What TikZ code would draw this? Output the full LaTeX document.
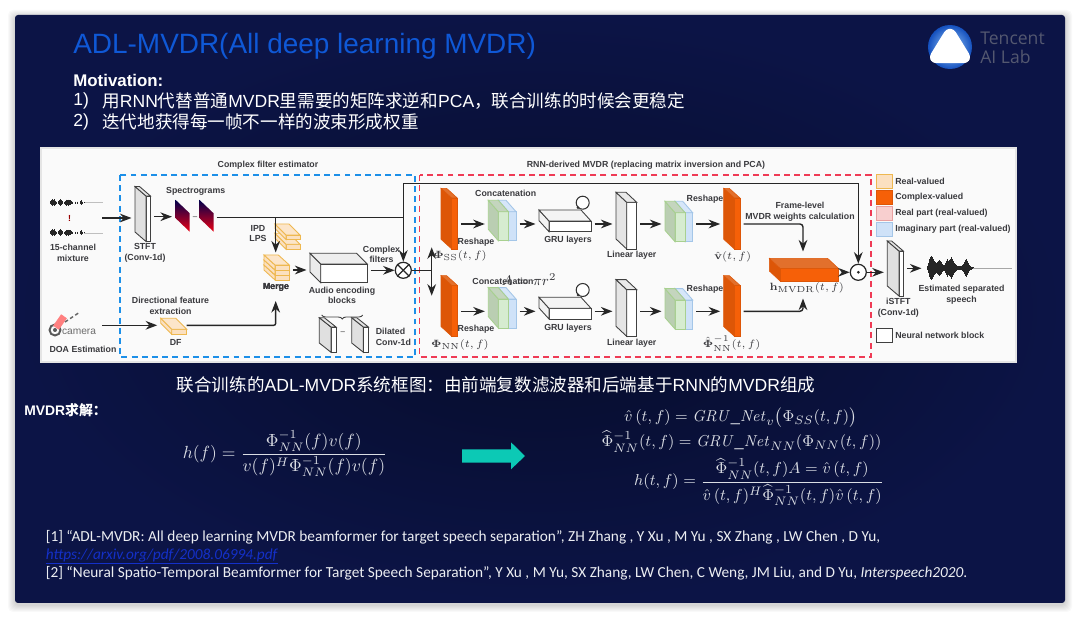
\documentclass[tikz,border=0pt]{standalone}
\usepackage{amsmath,amssymb}
\usepackage[no-math]{fontspec}
\setmainfont{Liberation Sans}
\newfontfamily\cjk{Noto Sans CJK SC}
\newfontfamily\reffont{Carlito}
\newfontfamily\logofont{Open Sans}
\usetikzlibrary{arrows.meta,calc,decorations.pathreplacing}
\definecolor{slideblue}{RGB}{12,20,70}
\definecolor{slidedark}{RGB}{6,12,42}
\definecolor{titleblue}{RGB}{15,88,214}
\definecolor{softwhite}{RGB}{236,238,242}
\definecolor{mathgray}{RGB}{218,221,228}
\definecolor{tealarrow}{RGB}{12,201,181}
\definecolor{linkblue}{RGB}{20,48,200}
\definecolor{dashblue}{RGB}{28,143,232}
\definecolor{dashred}{RGB}{239,59,85}
\definecolor{cplxorange}{RGB}{246,96,8}
\definecolor{realfill}{RGB}{251,224,192}
\definecolor{realedge}{RGB}{238,184,80}
\definecolor{greenfill}{RGB}{214,236,208}
\definecolor{greenside}{RGB}{186,206,178}
\definecolor{greenedge}{RGB}{168,208,144}
\definecolor{imagfill}{RGB}{207,226,248}
\definecolor{imagedge}{RGB}{164,198,232}
\definecolor{partfill}{RGB}{248,207,207}
\definecolor{partedge}{RGB}{232,160,160}
\definecolor{textgray}{RGB}{58,58,62}
\definecolor{logoblue}{RGB}{20,80,190}
\definecolor{logoglow}{RGB}{160,208,255}
\definecolor{logotext}{RGB}{84,88,112}

% front face as a node, then the two slanted faces
\newcommand{\cuboid}[9]{
    \colorlet{cubeside}{#2}
    \node[front, #1, anchor=north west, minimum width=#6*0.02cm, minimum height=#7*0.02cm] (#3) at (#4,#5) {};
    \draw[#1, fill=cubeside] (#3.north west) -- ++(-#8,-#9) -- ++(0,#7) -- (#3.south west) -- cycle;
    \draw[#1, fill=cubeside!85!white] (#3.north west) -- ++(-#8,-#9) -- ++(#6,0) -- (#3.north east) -- cycle;
    \coordinate (#3w) at ($(#3.west)+(-#8,0)$);
    \coordinate (#3e) at (#3.east);
}
\newcommand{\concat}[3]{
    \cuboid{imagbox}{imagfill}{#1i}{#2+10}{#3}{7.7}{29}{10}{11.4}
    \cuboid{greenbox}{greenside}{#1}{#2}{#3}{10}{29}{10}{11.4}
    \coordinate (#1e) at (#1i.east);
}

\begin{document}
\begin{tikzpicture}[x=0.02cm, y=-0.02cm,
    front/.style={draw, inner sep=0pt, outer sep=0pt},
    greybox/.style={draw=black!75, fill=white, line width=0.5pt},
    realbox/.style={draw=realedge, fill=realfill, line width=0.5pt},
    cplxbox/.style={draw=cplxorange!90!black, fill=cplxorange, line width=0.3pt},
    greenbox/.style={draw=greenedge, fill=greenfill, line width=0.5pt},
    imagbox/.style={draw=imagedge, fill=imagfill, line width=0.5pt},
    partbox/.style={draw=partedge, fill=partfill, line width=0.5pt},
    lab/.style={font=\fontsize{5}{6}\selectfont\bfseries, text=textgray, align=center, inner sep=0pt},
    leg/.style={lab, anchor=west},
    mlab/.style={font=\fontsize{6.2}{7}\selectfont, text=textgray, inner sep=0pt},
    conn/.style={->, draw=black!85, line width=0.8pt, shorten >=0.07cm, shorten <=0.07cm},
    flow/.style={draw=black!85, line width=0.8pt},
    opnode/.style={circle, draw=black!85, fill=white, line width=0.7pt, minimum size=0.32cm, inner sep=0pt},
    slidetxt/.style={font=\fontsize{10}{12}\selectfont, text=white, anchor=west, inner sep=0pt},
    reftxt/.style={font=\fontsize{8.72}{10}\selectfont\reffont, text=softwhite, anchor=west, inner sep=0pt},
    eqn/.style={text=mathgray, inner sep=0pt},
    logotxt/.style={font=\fontsize{10}{12}\selectfont\logofont, text=logotext, anchor=west, inner sep=0pt},
    >=Stealth
]
\useasboundingbox (0,0) rectangle (1080,618);
\fill[white] (0,0) rectangle (1080,618);

% slide and its shadow
\foreach \d in {1,...,7}
    \fill[black, opacity=0.025, rounded corners=0.1cm] (15-\d,15-\d+2) rectangle (1065+\d,603+\d+2);
\shade[inner color=slidedark, outer color=slideblue, rounded corners=0.06cm] (15,15) rectangle (1065,603);

% header
\node[font=\fontsize{15.9}{20}\selectfont, text=titleblue, anchor=west, inner sep=0pt] (title) at (73,46.5) {ADL-MVDR(All deep learning MVDR)};
\node[slidetxt, font=\fontsize{9.6}{12}\selectfont\bfseries] (motiv) at (73,80) {Motivation:};
\node[slidetxt] (numa) at (73,101) {1)};
\node[slidetxt] (numb) at (73,122) {2)};
\node[slidetxt] (linea) at (102,101) {{\cjk 用}RNN{\cjk 代替普通}MVDR{\cjk 里需要的矩阵求逆和}PCA{\cjk ，联合训练的时候会更稳定}};
\node[slidetxt] (lineb) at (102,122) {\cjk 迭代地获得每一帧不一样的波束形成权重};

% logo
\node[circle, minimum size=0.88cm, inner sep=0pt, inner color=logoglow, outer color=logoblue] (logo) at (950,47) {};
\fill[white, draw=white, line width=2.5pt, line join=round, rounded corners=0.16cm] (950,27) -- (971,61) -- (929,61) -- cycle;
\node[logotxt] (tencent) at (980,38) {Tencent};
\node[logotxt] (ailab) at (980,57) {AI Lab};

% white panel
\fill[white!80!gray] (40,147) rectangle (1017,363);
\fill[white!98!black] (42,149) rectangle (1015,361);

\draw[dashblue, line width=0.9pt, dash pattern=on 3.4pt off 2.4pt] (120,175) rectangle (415,357);
\draw[dashred, line width=0.9pt, dash pattern=on 3.4pt off 2.4pt] (419.5,175) rectangle (871,357);
\node[lab] (titlecfe) at (268,165) {Complex filter estimator};
\node[lab] (titlernn) at (646,165.5) {RNN-derived MVDR (replacing matrix inversion and PCA)};

% input waveforms
\foreach \y in {202.7,233} {
    \draw[gray!50, line width=0.3pt] (84,\y) -- (103,\y);
    \foreach \x/\h in {50/1.5,51/2.5,52/3.5,53/2.5,54/3.5,55/2,56/1,58/1.5,59/2.5,60/3.5,61/2.5,62/1.5,64/1,65/2,66/3,67/2.5,68/3,69/2.5,70/2.5,71/1.5,72/1,75/1,77/1,80/1.5,81/2.5,82/1,84/.5}
        \draw[black!85, line width=0.55pt] (\x,\y-\h) -- (\x,\y+\h);
}
\node[lab, text=red!60!black] (dotsmix) at (69.5,218) {!};
\node[lab] (labmix) at (73,253) {15-channel\\mixture};
\coordinate (mixout) at (98.5,218);

% camera
\draw[gray!70!black, line width=1.1pt] (55,330) circle (5.5);
\fill[gray!70!black] (55,330) circle (2);
\fill[red!50!white, rotate around={-35:(60,322)}] (56.5,315) rectangle (63.5,329);
\draw[gray!80!black, line width=0.8pt, dash pattern=on 2pt off 1.5pt] (65,322) -- (80,312);
\node[font=\fontsize{5.8}{8}\selectfont, text=gray!85!black, inner sep=0pt] (labcam) at (79,332) {camera};
\node[lab] (labdoa) at (83,349) {DOA Estimation};
\coordinate (camout) at (98.5,325.3);

% STFT and spectrograms
\cuboid{greybox}{black!12}{stft}{146}{196}{4.5}{45.5}{11}{9.5}
\node[lab] (labstft) at (145,253) {STFT\\(Conv-1d)};
\foreach \x in {175.7,199.6}
    \shade[top color=black!70!blue, bottom color=red!70!purple] (\x,200) -- (\x+14,213.3) -- (\x+14,231.7) -- (\x,218.3) -- cycle;
\coordinate (specin) at (175.5,216.7);
\coordinate (specout) at (216.5,217.3);
\node[lab, text=gray] (dashspec) at (195,218) {--};
\node[lab] (labspec) at (195.7,191.7) {Spectrograms};

% merge side
\cuboid{realbox}{realfill}{ipdb}{286}{244.3}{14}{5}{11}{11}
\cuboid{realbox}{realfill}{ipda}{286}{235}{14}{4.5}{11}{11}
\node[lab] (labipd) at (258,233.5) {IPD\\LPS};
\foreach \n/\y in {c/275,b/270,a/265}
    \cuboid{realbox}{realfill}{merge\n}{275}{\y}{14.3}{5}{11}{10}
\node[lab] (labmerge) at (276,287) {Merge};
\cuboid{realbox}{realfill}{df}{171.7}{329.3}{15}{5}{11}{11}
\node[lab] (labdf) at (175.7,342.7) {DF};
\node[lab] (labdirect) at (170.5,306) {Directional feature\\extraction};
\coordinate (mergetop) at (275.7,256);
\coordinate (mergelow) at (275.7,297.5);
\coordinate (rowm) at (0,270);

% audio encoding
\cuboid{greybox}{black!8}{audio}{320.7}{264}{46.6}{18.7}{10.7}{10.7}
\node[lab] (labaudio) at (342,295.5) {Audio encoding\\blocks};
\coordinate (bracel) at (321.7,315);
\coordinate (bracer) at (362.7,315);
\draw[black!75, line width=0.5pt, decorate, decoration={brace, amplitude=0.08cm, mirror}] (bracel) -- (bracer);
\cuboid{greybox}{black!12}{dila}{331}{327}{5}{25.3}{11.7}{9.3}
\cuboid{greybox}{black!12}{dilb}{363.4}{327}{5}{25.3}{11.7}{9.3}
\node[lab, text=gray] (dashdil) at (342.7,333) {--};
\node[lab, align=left, anchor=west] (labdil) at (375.5,337) {Dilated\\Conv-1d};
\node[lab] (labcplx) at (381.5,254.5) {Complex\\filters};

\node[opnode] (otimes) at (403.3,270.3) {};
\draw[black!85, line width=0.7pt] (otimes.north west) -- (otimes.south east);
\draw[black!85, line width=0.7pt] (otimes.north east) -- (otimes.south west);

% the two RNN rows
\foreach \r/\o in {a/0,b/87.3} {
    \coordinate (row\r) at (0,224+\o);
    \cuboid{cplxbox}{cplxorange!90!black}{orgin\r}{451.7}{198+\o}{5.6}{51}{10.7}{9.7}
    \concat{cona\r}{498.3}{211.7+\o}
    \cuboid{greybox}{black!5}{gru\r}{549}{221+\o}{42}{10.7}{10}{11}
    \node[circle, draw=black!80, fill=white, line width=0.6pt, minimum size=0.26cm, inner sep=0pt] (loop\r) at (582.7,202.7+\o) {};
    \fill[black!80] (578,207.7+\o) circle (1.5);
    \cuboid{greybox}{black!10}{linear\r}{626.7}{202.3+\o}{10}{46.7}{10.7}{10}
    \concat{conb\r}{675}{212.7+\o}
    \cuboid{cplxbox}{cplxorange!90!black}{orgout\r}{734.4}{198+\o}{5.6}{51}{10.7}{9.7}
    \node[lab] (labgru\r) at (568,240.7+\o) {GRU layers};
    \node[lab] (lablin\r) at (631.7,255.7+\o) {Linear layer};
    \node[lab] (labresa\r) at (476,242+\o) {Reshape};
    % connections along the row
    \foreach \p/\q in {orgin/cona, cona/gru, gru/linear, linear/conb, conb/orgout}
        \draw[conn] (\p\r e |- row\r) -- (\q\r w |- row\r);
}
\node[lab] (labcona) at (505.7,193.3) {Concatenation};
\node[lab] (labconb) at (503,281) {Concatenation};
\node[font=\fontsize{8.5}{10}\selectfont, text=textgray, inner sep=0pt] (labarea) at (529,280) {$A=\pi r^2$};
\node[lab] (labresb) at (705,199.3) {Reshape};
\node[lab] (labresc) at (705,289.3) {Reshape};
\node[mlab] (labss) at (460,255.5) {$\boldsymbol{\Phi}_{\mathrm{SS}}(t,f)$};
\node[mlab] (labnn) at (460,344.5) {$\boldsymbol{\Phi}_{\mathrm{NN}}(t,f)$};
\node[mlab] (labv) at (732.7,257) {$\hat{\mathbf{v}}(t,f)$};
\node[mlab] (labnni) at (731.7,343.5) {$\hat{\boldsymbol{\Phi}}_{\mathrm{NN}}^{-1}(t,f)$};

% beamforming output
\cuboid{cplxbox}{cplxorange!90!black}{hmvdr}{780}{268.3}{58.3}{12.7}{10.7}{10}
\node[mlab] (labh) at (806.7,287.5) {$\mathbf{h}_{\mathrm{MVDR}}(t,f)$};
\node[lab] (labframe) at (800,211.5) {Frame-level\\MVDR weights calculation};
\node[opnode] (odot) at (858.3,272.3) {};
\fill[black!85] (odot) circle (1.5);
\coordinate (hin) at (803,255);
\coordinate (hlow) at (803,295);
\cuboid{greybox}{black!12}{istft}{899}{251}{4.3}{45}{11.7}{10}
\node[lab] (labistft) at (898.3,308) {iSTFT\\(Conv-1d)};
\foreach \x/\h in {927/2,928/5,929/9,930/11,931/12,932/11,933/9,934/7,935/6,936/5,937/6,938/7,939/8,940/7,941/6,942/4,943/3,944/3,945/5,946/7,947/9,948/7,949/8,950/9,951/11,952/9,953/7,954/5,955/4,956/3,957/2,958/2,959/2,960/2,961/2,962/3,963/4,964/6,965/8,966/9,967/7,968/5,969/3,970/2,971/1.5,972/1,973/1}
    \draw[black!85, line width=0.55pt] (\x,268.3-\h) -- (\x,268.3+\h);
\draw[gray!70, line width=0.4pt] (973,268.3) -- (1011.7,268.3);
\coordinate (waveout) at (925,268.3);
\node[lab] (labest) at (961.5,294.5) {Estimated separated\\speech};

% legend
\foreach \n/\y/\b/\t in {a/181.3/realbox/Real-valued, b/197.3/cplxbox/Complex-valued, c/213.7/partbox/Real part (real-valued), d/229/imagbox/Imaginary part (real-valued), e/335.8/greybox/Neural network block} {
    \node[\b, minimum width=0.32cm, minimum height=0.28cm, inner sep=0pt] (legbox\n) at (884.7,\y) {};
    \node[leg] (legtxt\n) at (895,\y) {\t};
}

% connections
\draw[conn] (mixout) -- (stftw |- mixout);
\draw[conn] (stfte |- specin) -- (specin);
\coordinate (junc) at (403.3,217.3);
\coordinate (junctop) at (403.3,183.3);
\coordinate (branch) at (275.7,217.3);
\draw[flow] (specout) -- (junc);
\draw[flow] (junc) -- (junctop);
\draw[conn, shorten <=0pt, shorten >=0pt] (junc) -- (otimes.north);
\draw[conn, shorten <=0pt, shorten >=0pt] (junctop) -| (odot.north);
\draw[conn, shorten <=0pt] (branch) -- (mergetop);
\draw[conn] (mergeae |- rowm) -- (audiow |- rowm);
\draw[conn, shorten >=0pt] (audioe |- otimes) -- (otimes.west);
\draw[conn] (camout) -- (dfw |- camout);
\draw[conn, rounded corners=0.04cm, shorten <=0pt] (dfe |- camout) -| (mergelow);
\coordinate (split) at (431.7,270.3);
\coordinate (splitup) at (431.7,247.3);
\coordinate (splitdn) at (431.7,295.7);
\draw[flow] (otimes.east) -- (split);
\draw[conn, shorten <=0pt, shorten >=0pt] (split) -- (splitup);
\draw[conn, shorten <=0pt, shorten >=0pt] (split) -- (splitdn);
\draw[conn, rounded corners=0.06cm] (orgoutae |- rowa) -| (hin);
\draw[conn, rounded corners=0.06cm] (orgoutbe |- rowb) -| (hlow);
\draw[conn, shorten >=0pt] (hmvdre |- odot) -- (odot.west);
\draw[conn, shorten <=0pt] (odot.east) -- (istftw |- odot);
\draw[conn] (istfte |- waveout) -- (waveout);

% lower part of the slide
\node[font=\fontsize{10}{12}\selectfont, text=white, inner sep=0pt] (caption) at (496,385) {{\cjk 联合训练的}ADL-MVDR{\cjk 系统框图：由前端复数滤波器和后端基于}RNN{\cjk 的}MVDR{\cjk 组成}};
\node[font=\fontsize{7.9}{9}\selectfont\bfseries, text=white, anchor=west, inner sep=0pt] (labsolve) at (24,410) {MVDR{\cjk\bfseries 求解：}};
\node[eqn, font=\fontsize{9.8}{12}\selectfont] (eqleft) at (285,454) {$\displaystyle h(f)=\frac{\Phi_{NN}^{-1}(f)v(f)}{v(f)^{H}\Phi_{NN}^{-1}(f)v(f)}$};
\fill[tealarrow] (462,449.3) -- (511,449.3) -- (511,442.3) -- (525,456) -- (511,469.3) -- (511,462.7) -- (462,462.7) -- cycle;
\node[eqn, font=\fontsize{9.3}{13}\selectfont] (eqv) at (740.5,417.7) {$\hat{v}\,(t,f)=\mathit{GRU\_Net}_{v}\bigl(\Phi_{SS}(t,f)\bigr)$};
\node[eqn, font=\fontsize{9.3}{13}\selectfont] (eqnn) at (741.5,441.7) {$\widehat{\Phi}_{NN}^{-1}(t,f)=\mathit{GRU\_Net}_{NN}(\Phi_{NN}(t,f))$};
\node[eqn, font=\fontsize{9.4}{13}\selectfont] (eqh) at (759,482) {$\displaystyle h(t,f)=\frac{\widehat{\Phi}_{NN}^{-1}(t,f)A=\hat{v}\,(t,f)}{\hat{v}\,(t,f)^{H}\widehat{\Phi}_{NN}^{-1}(t,f)\hat{v}\,(t,f)}$};

\node[reftxt] (refa) at (45.5,537) {[1] “ADL-MVDR: All deep learning MVDR beamformer for target speech separation”, ZH Zhang , Y Xu , M Yu , SX Zhang , LW Chen , D Yu,};
\node[reftxt, text=linkblue, font=\fontsize{8.72}{10}\selectfont\reffont\itshape] (refurl) at (45.5,555) {https://arxiv.org/pdf/2008.06994.pdf};
\draw[linkblue, line width=0.4pt] ($(refurl.south west)+(0,1)$) -- ($(refurl.south east)+(0,1)$);
\node[reftxt] (refb) at (45.5,573) {[2] “Neural Spatio-Temporal Beamformer for Target Speech Separation”, Y Xu , M Yu, SX Zhang, LW Chen, C Weng, JM Liu, and D Yu, \textit{Interspeech2020}.};
\end{tikzpicture}
\end{document}
